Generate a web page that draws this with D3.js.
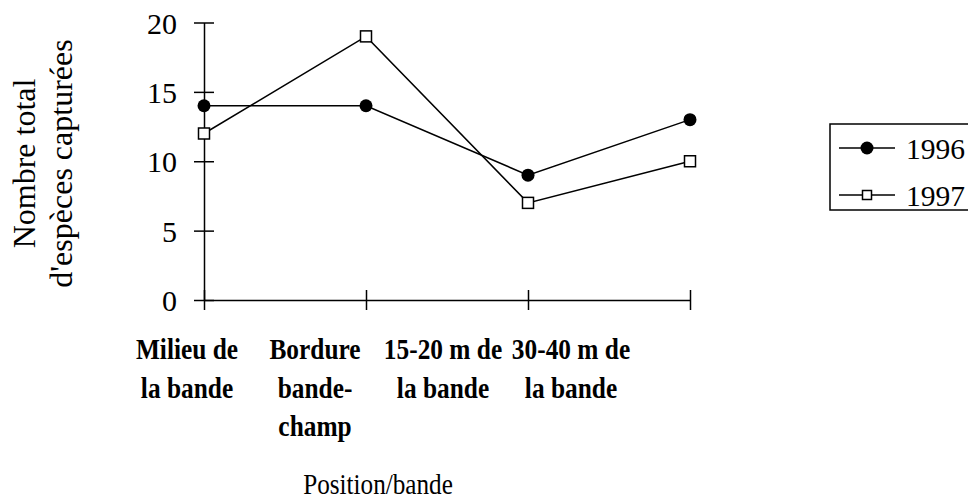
<!DOCTYPE html>
<html>
<head>
<meta charset="utf-8">
<script src="https://cdn.jsdelivr.net/npm/d3@7"></script>
<style>
  html, body { margin: 0; padding: 0; background: #fff; }
  svg { display: block; font-family: "Liberation Serif", "Times New Roman", serif; }
</style>
</head>
<body>
<svg id="chart" width="968" height="502"></svg>
<script>
const categories = ["Milieu de la bande", "Bordure bande-champ", "15-20 m de la bande", "30-40 m de la bande"];
const categoryLines = [["Milieu de", "la bande"], ["Bordure", "bande-", "champ"], ["15-20 m de", "la bande"], ["30-40 m de", "la bande"]];
const series1996 = [14, 14, 9, 13];
const series1997 = [12, 19, 7, 10];
const yTicks = [0, 5, 10, 15, 20];
const seriesNames = ["1996", "1997"];
const yTitleLines = ["Nombre total", "d'espèces capturées"];
const xTitle = "Position/bande";

const svg = d3.select("#chart");
const x = d3.scalePoint().domain(categories).range([204, 690]);
const xLab = d3.scalePoint().domain(categories).range([187, 571]);
const y = d3.scaleLinear().domain([0, 20]).range([300, 22.5]);

// Y axis
const yAxis = svg.append("g").attr("transform", "translate(204,0)")
  .call(d3.axisLeft(y).tickValues(yTicks).tickSize(10).tickPadding(17).tickSizeOuter(0));
yAxis.select(".domain").attr("stroke", "#000").attr("stroke-width", 1.5);
yAxis.selectAll(".tick line").attr("x2", 10).attr("x1", -10).attr("stroke-width", 1.5);
yAxis.selectAll(".tick text").attr("font-size", 30).attr("font-family", "Liberation Serif").attr("fill", "#000").attr("x", -27).attr("dy", "0.35em");

// X axis
const xAxis = svg.append("g").attr("transform", "translate(0,300)")
  .call(d3.axisBottom(x).tickSize(10).tickSizeOuter(0).tickFormat(""));
xAxis.select(".domain").attr("stroke", "#000").attr("stroke-width", 1.5);
xAxis.selectAll(".tick line").attr("y1", -10).attr("y2", 10).attr("stroke-width", 1.5);

// X category labels
const labG = svg.append("g");
categories.forEach((c, i) => {
  categoryLines[i].forEach((ln, j) => {
    labG.append("text")
      .attr("transform", `translate(${xLab(c)},${359 + j * 38.5}) scale(0.86,1)`)
      .attr("text-anchor", "middle")
      .attr("font-size", 29.5)
      .attr("font-weight", "bold")
      .attr("fill", "#000")
      .text(ln);
  });
});

// X title
svg.append("text")
  .attr("transform", "translate(378,494) scale(0.84,1)")
  .attr("text-anchor", "middle")
  .attr("font-size", 30)
  .attr("fill", "#000")
  .text(xTitle);

// Y title
yTitleLines.forEach((t, i) => {
  svg.append("text")
    .attr("transform", `translate(${35 + i * 37},163.5) rotate(-90)`)
    .attr("text-anchor", "middle")
    .attr("font-size", 32)
    .attr("fill", "#000")
    .text(t);
});

// Lines
const line = d3.line().x((d, i) => x(categories[i])).y(d => y(d));
svg.append("path").datum(series1996).attr("d", line).attr("fill", "none").attr("stroke", "#000").attr("stroke-width", 1.5);
svg.append("path").datum(series1997).attr("d", line).attr("fill", "none").attr("stroke", "#000").attr("stroke-width", 1.5);

// Markers
svg.append("g").selectAll("circle").data(series1996).join("circle")
  .attr("cx", (d, i) => x(categories[i])).attr("cy", d => y(d)).attr("r", 6.5).attr("fill", "#000");
const sq = 11;
svg.append("g").selectAll("rect").data(series1997).join("rect")
  .attr("x", (d, i) => x(categories[i]) - sq / 2).attr("y", d => y(d) - sq / 2)
  .attr("width", sq).attr("height", sq).attr("fill", "#fff").attr("stroke", "#000").attr("stroke-width", 1.5);

// Legend
const leg = svg.append("g");
leg.append("rect").attr("x", 830).attr("y", 124).attr("width", 160).attr("height", 86)
  .attr("fill", "#fff").attr("stroke", "#000").attr("stroke-width", 1.5);
const legY = [148, 195];
seriesNames.forEach((n, i) => {
  leg.append("line").attr("x1", 839).attr("x2", 895).attr("y1", legY[i]).attr("y2", legY[i])
    .attr("stroke", "#000").attr("stroke-width", 1.5);
  if (i === 0) {
    leg.append("circle").attr("cx", 867).attr("cy", legY[i]).attr("r", 6.5).attr("fill", "#000");
  } else {
    leg.append("rect").attr("x", 867 - 4.5).attr("y", legY[i] - 4.5).attr("width", 9).attr("height", 9)
      .attr("fill", "#fff").attr("stroke", "#000").attr("stroke-width", 1.5);
  }
  leg.append("text").attr("x", 906).attr("y", legY[i] + 11).attr("font-size", 29.5).attr("fill", "#000").text(n);
});
</script>
</body>
</html>
